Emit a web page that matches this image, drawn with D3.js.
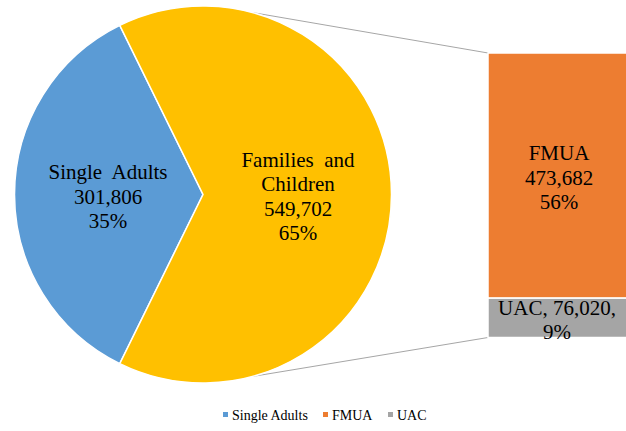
<!DOCTYPE html>
<html>
<head>
<meta charset="utf-8">
<script src="https://cdn.jsdelivr.net/npm/d3@7"></script>
<style>
  body { margin: 0; background: #fff; }
  svg { display: block; }
</style>
</head>
<body>
<svg></svg>
<script>
// data
const pieCategories = ['Single Adults', 'Families and Children']
const pieValues = [301806, 549702]
const pieLabelLines = [['Single  Adults'], ['Families  and', 'Children']]
const barCategories = ['FMUA', 'UAC']
const barValues = [473682, 76020]
const legendItems = ['Single Adults', 'FMUA', 'UAC']

const colors = { 'Single Adults': '#5B9BD5', 'Families and Children': '#FFC000', FMUA: '#ED7D31', UAC: '#A5A5A5' }
const fontFamily = "'Liberation Serif', 'Times New Roman', Times, serif"

const dims = { width: 626, height: 431 }
const svg = d3.select('svg')
  .attr('width', dims.width)
  .attr('height', dims.height)
  .style('font-family', fontFamily)

const total = d3.sum(pieValues)
const fmtNum = d3.format(',')
const fmtPct = d3.format('.0%')

// pie setup
const cx = 203, cy = 194.5, r = 188.5
const saAngle = pieValues[0] / total * 2 * Math.PI
const start = -Math.PI / 2 - saAngle / 2
const pie = d3.pie().sort(null).startAngle(start).endAngle(start + 2 * Math.PI)
const arcs = pie(pieValues)
const arc = d3.arc().innerRadius(0).outerRadius(r)
const labelArc = d3.arc().innerRadius(95).outerRadius(95)

const lineH = 24.5

// connector lines (drawn first, under the pie)
const barX = 488, barW = 142
const y = d3.scaleLinear().domain([0, d3.sum(barValues)]).range([53, 337.5])
const connAngle = 15 * Math.PI / 180
const connectors = [
  [[cx + r * Math.sin(connAngle), cy - r * Math.cos(connAngle)], [barX, y(0)]],
  [[cx + r * Math.sin(connAngle), cy + r * Math.cos(connAngle)], [barX, y(d3.sum(barValues))]]
]
svg.append('g').selectAll('line').data(connectors)
  .enter().append('line')
    .attr('x1', d => d[0][0]).attr('y1', d => d[0][1])
    .attr('x2', d => d[1][0]).attr('y2', d => d[1][1])
    .attr('stroke', '#A6A6A6')
    .attr('stroke-width', 1)

const pieG = svg.append('g').attr('transform', `translate(${cx},${cy})`)
pieG.selectAll('path').data(arcs)
  .enter().append('path')
    .attr('d', arc)
    .attr('fill', (d, i) => colors[pieCategories[i]])
    .attr('stroke', '#fff')
    .attr('stroke-width', 1.5)

// multi-line label helper
function drawLabel(g, x, yc, lines) {
  const n = lines.length
  const t = g.append('text')
    .attr('text-anchor', 'middle')
    .attr('font-family', fontFamily)
    .attr('font-size', 21)
    .attr('fill', '#000')
  lines.forEach((l, i) => {
    t.append('tspan')
      .attr('x', x)
      .attr('y', yc + 9 + (i - (n - 1) / 2) * lineH)
      .style('white-space', 'pre')
      .text(l)
  })
}

arcs.forEach((a, i) => {
  const [lx, ly] = labelArc.centroid(a)
  drawLabel(pieG, lx, ly, [...pieLabelLines[i], fmtNum(pieValues[i]), fmtPct(pieValues[i] / total)])
})

// stacked bar
let acc = 0
const stacked = barValues.map((v, i) => {
  const d = { cat: barCategories[i], value: v, y0: acc, y1: acc + v }
  acc += v
  return d
})
const barG = svg.append('g')
barG.selectAll('rect').data(stacked)
  .enter().append('rect')
    .attr('x', barX)
    .attr('y', d => y(d.y0))
    .attr('width', barW)
    .attr('height', d => y(d.y1) - y(d.y0))
    .attr('fill', d => colors[d.cat])
    .attr('stroke', '#fff')
    .attr('stroke-width', 1.5)

const lx = barX + barW / 2
drawLabel(barG, lx, (y(stacked[0].y0) + y(stacked[0].y1)) / 2,
  [stacked[0].cat, fmtNum(stacked[0].value), fmtPct(stacked[0].value / total)])
drawLabel(barG, lx - 2, (y(stacked[1].y0) + y(stacked[1].y1)) / 2,
  [`${stacked[1].cat}, ${fmtNum(stacked[1].value)},`, fmtPct(stacked[1].value / total)])

// legend
const legendX = [223, 323, 388]
const legend = svg.append('g').selectAll('g').data(legendItems)
  .enter().append('g')
    .attr('transform', (d, i) => `translate(${legendX[i]},414.5)`)
legend.append('rect')
  .attr('x', 0).attr('y', -2.5)
  .attr('width', 5).attr('height', 5)
  .attr('fill', d => colors[d])
legend.append('text')
  .attr('x', 9).attr('y', 5)
  .attr('font-family', fontFamily)
  .attr('font-size', 14)
  .attr('fill', '#000')
  .text(d => d)
</script>
</body>
</html>
